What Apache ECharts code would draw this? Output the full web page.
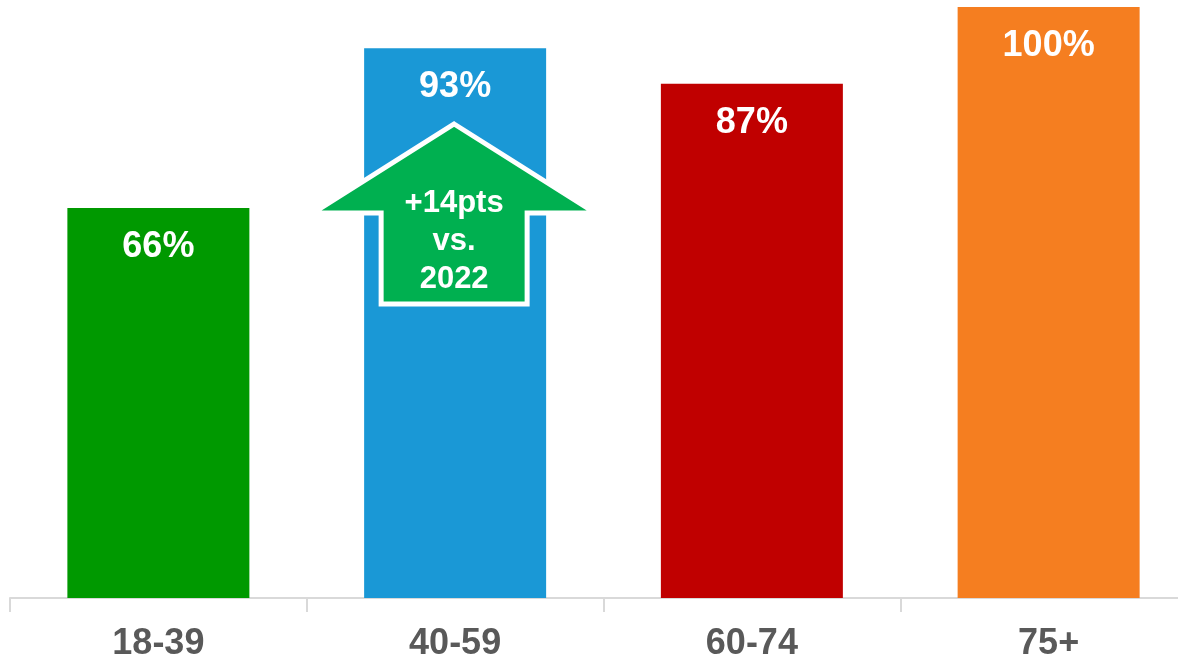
<!DOCTYPE html>
<html>
<head>
<meta charset="utf-8">
<script src="https://cdn.jsdelivr.net/npm/echarts@6/dist/echarts.min.js"></script>
<style>html,body{margin:0;padding:0;background:#fff;}#c{width:1178px;height:658px;}</style>
</head>
<body>
<div id="c"></div>
<script>
const categories = ['18-39', '40-59', '60-74', '75+'];
const values = [66, 93, 87, 100];
const barColors = ['#009900', '#1A98D6', '#C00000', '#F57E20'];
const calloutLines = ['+14pts', 'vs.', '2022'];
const calloutCategory = '40-59';

const chart = echarts.init(document.getElementById('c'));
const FONT = '"Liberation Sans", Arial, sans-serif';
chart.setOption({
  animation: false,
  grid: { left: 10, width: 1187, top: 7, height: 591, containLabel: false, outerBoundsMode: 'none' },
  xAxis: {
    type: 'category',
    data: categories,
    axisLine: { lineStyle: { color: '#D9D9D9', width: 2 } },
    axisTick: { show: true, length: 14, lineStyle: { color: '#D9D9D9', width: 2 } },
    axisLabel: { color: '#595959', fontSize: 36, fontWeight: 'bold', fontFamily: FONT, margin: 28 }
  },
  yAxis: {
    type: 'value', min: 0, max: 100, show: false,
    splitLine: { show: false }
  },
  series: [{
    type: 'bar',
    barWidth: 182,
    data: values.map((v, i) => ({ value: v, itemStyle: { color: barColors[i] } })),
    label: {
      show: true, position: 'insideTop', distance: 21,
      formatter: '{c}%', color: '#fff', fontSize: 36, fontWeight: 'bold', fontFamily: FONT
    }
  }]
});

function drawCallout() {
  const cx = chart.convertToPixel({ xAxisIndex: 0 }, calloutCategory);
  const base = chart.convertToPixel({ yAxisIndex: 0 }, 0);
  const tipY = base - 474, wingY = base - 385, botY = base - 294;
  const pts = [
    [cx - 1, tipY], [cx + 140, wingY], [cx + 72, wingY], [cx + 72, botY],
    [cx - 74, botY], [cx - 74, wingY], [cx - 142, wingY]
  ];
  chart.setOption({
    graphic: [
      { type: 'polygon', shape: { points: pts }, style: { fill: '#00B050', stroke: '#fff', lineWidth: 5, lineJoin: 'miter', miterLimit: 10 }, z: 100 },
      { type: 'text', x: cx - 1, y: base - 357, style: {
          text: calloutLines.join('\n'), fill: '#fff', font: 'bold 31px ' + FONT,
          textAlign: 'center', textVerticalAlign: 'middle', lineHeight: 38
        }, z: 101 }
    ]
  });
}
drawCallout();
</script>
</body>
</html>
